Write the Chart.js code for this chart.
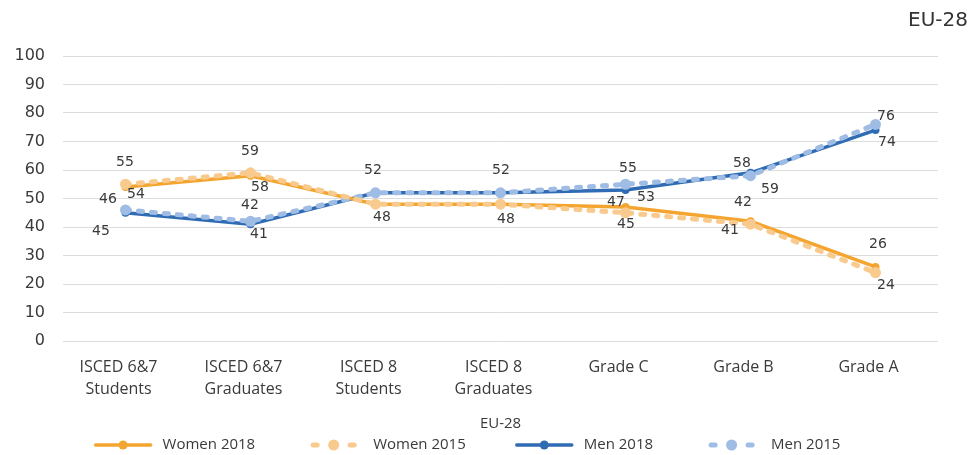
<!DOCTYPE html>
<html>
<head>
<meta charset="utf-8">
<script src="https://cdn.jsdelivr.net/npm/chart.js@4.4.1/dist/chart.umd.min.js"></script>
<style>
  html, body { margin: 0; padding: 0; background: #fff; }
  #wrap { width: 971px; height: 455px; }
</style>
</head>
<body>
<div id="wrap"><canvas id="chart" width="971" height="455"></canvas></div>
<script>
// --- data ---
const categories = [
  ['ISCED 6&7', 'Students'],
  ['ISCED 6&7', 'Graduates'],
  ['ISCED 8', 'Students'],
  ['ISCED 8', 'Graduates'],
  'Grade C',
  'Grade B',
  'Grade A'
];
const women2018 = [54, 58, 48, 48, 47, 42, 26];
const women2015 = [55, 59, 48, 48, 45, 41, 24];
const men2018 = [45, 41, 52, 52, 53, 59, 74];
const men2015 = [46, 42, 52, 52, 55, 58, 76];
const yTicks = [0, 10, 20, 30, 40, 50, 60, 70, 80, 90, 100];

// where each value label sits relative to its point (px)
const labelOffsets = {
  'Women 2018': [[10, 7], [9, 11], [6, 13], [5, 15], [-10, -5], [-8, -19], [2, -23]],
  'Women 2015': [[-1, -22], [-1, -22], [6, 13], [5, 15], [0, 11], [-21, 6], [10, 12]],
  'Men 2018':   [[-25, 18], [8, 10], [-3, -23], [0, -23], [20, 7], [19, 16], [11, 12]],
  'Men 2015':   [[-18, -11], [-1, -16], [-3, -23], [0, -23], [2, -16], [-9, -13], [10, -8]]
};

const TEXT = '#3a3a3a';

// value labels next to each point
const pointLabels = {
  id: 'pointLabels',
  afterDatasetsDraw(chart) {
    const ctx = chart.ctx;
    ctx.save();
    ctx.font = '14px "DejaVu Sans"';
    ctx.fillStyle = TEXT;
    ctx.textAlign = 'center';
    ctx.textBaseline = 'middle';
    const seen = new Set();
    chart.data.datasets.forEach((ds, i) => {
      const offs = labelOffsets[ds.label];
      chart.getDatasetMeta(i).data.forEach((pt, j) => {
        const x = Math.round(pt.x + offs[j][0]), y = Math.round(pt.y + offs[j][1]);
        const key = x + ',' + y + ',' + ds.data[j];
        if (seen.has(key)) return; // equal labels on top of each other: draw once
        seen.add(key);
        ctx.fillText(String(ds.data[j]), x, y);
      });
    });
    ctx.restore();
  }
};

// "EU-28" in the top right corner
const cornerTitle = {
  id: 'cornerTitle',
  afterDraw(chart, args, opts) {
    const ctx = chart.ctx;
    ctx.save();
    ctx.font = opts.font;
    ctx.fillStyle = '#333';
    ctx.textAlign = 'right';
    ctx.textBaseline = 'middle';
    ctx.fillText(opts.text, opts.x, opts.y);
    ctx.restore();
  }
};

function drawSample(ctx, ds, x, y, w) {
  ctx.save();
  ctx.lineCap = 'round';
  if (ds.borderDash && ds.borderDash.length) {
    ctx.strokeStyle = ds.borderColor;
    ctx.lineWidth = 5;
    ctx.beginPath();
    ctx.moveTo(x + 7, y); ctx.lineTo(x + 11, y);
    ctx.moveTo(x + 44, y); ctx.lineTo(x + 48, y);
    ctx.stroke();
    ctx.fillStyle = ds.pointBackgroundColor;
    ctx.beginPath();
    ctx.arc(x + w / 2, y, 5.5, 0, Math.PI * 2);
    ctx.fill();
  } else {
    ctx.strokeStyle = ds.borderColor;
    ctx.lineWidth = 3.5;
    ctx.beginPath();
    ctx.moveTo(x, y); ctx.lineTo(x + w, y);
    ctx.stroke();
    ctx.fillStyle = ds.borderColor;
    ctx.beginPath();
    ctx.arc(x + w / 2, y, 4.5, 0, Math.PI * 2);
    ctx.fill();
  }
  ctx.restore();
}

// one-row legend under the axis title
const legendRow = {
  id: 'legendRow',
  afterDraw(chart, args, opts) {
    const ctx = chart.ctx;
    ctx.save();
    ctx.font = opts.font;
    const items = chart.data.datasets.map(ds => ({ ds, w: ctx.measureText(ds.label).width }));
    const total = items.reduce((s, it) => s + opts.sample + opts.textGap + it.w, 0) + opts.itemGap * (items.length - 1);
    let x = opts.centerX - total / 2;
    items.forEach(({ ds, w }) => {
      drawSample(ctx, ds, x, opts.y, opts.sample);
      x += opts.sample + opts.textGap;
      ctx.fillStyle = TEXT;
      ctx.textAlign = 'left';
      ctx.textBaseline = 'middle';
      ctx.fillText(ds.label, x, opts.y);
      x += w + opts.itemGap;
    });
    ctx.restore();
  }
};

const W18 = '#F4A530', W15 = '#F8CA8E', M18 = '#2F6CB4', M15 = '#9EBCE4';

new Chart(document.getElementById('chart'), {
  type: 'line',
  data: {
    labels: categories,
    datasets: [
      { label: 'Women 2018', data: women2018, borderColor: W18, backgroundColor: W18,
        pointBackgroundColor: W18, borderWidth: 3.5, pointRadius: 4, order: 2 },
      { label: 'Women 2015', data: women2015, borderColor: W15, backgroundColor: W15,
        pointBackgroundColor: W15, borderWidth: 5, borderDash: [4, 9], borderCapStyle: 'round',
        pointRadius: 5.5, order: 0 },
      { label: 'Men 2018', data: men2018, borderColor: M18, backgroundColor: M18,
        pointBackgroundColor: M18, borderWidth: 3.5, pointRadius: 4, order: 3 },
      { label: 'Men 2015', data: men2015, borderColor: M15, backgroundColor: M15,
        pointBackgroundColor: M15, borderWidth: 5, borderDash: [4, 9], borderCapStyle: 'round',
        pointRadius: 5.5, order: 1 }
    ].map(ds => Object.assign({ tension: 0, fill: false, pointBorderWidth: 0 }, ds))
  },
  options: {
    responsive: false,
    animation: false,
    layout: { padding: { top: 56, right: 33, bottom: 22, left: 0 } },
    plugins: {
      legend: { display: false },
      tooltip: { enabled: false },
      cornerTitle: { text: 'EU-28', x: 968, y: 21, font: '20px "DejaVu Sans"' },
      legendRow: { font: '15px "Open Sans"', centerX: 468, y: 445, sample: 55, textGap: 12, itemGap: 51 }
    },
    scales: {
      x: {
        offset: true,
        grid: { display: false, drawTicks: false },
        border: { display: false },
        ticks: {
          color: TEXT, padding: 15, labelOffset: -7, maxRotation: 0, autoSkip: false,
          font: { family: 'Open Sans', size: 16, lineHeight: 1.375 }
        },
        title: { display: true, text: 'EU-28', color: TEXT, padding: 0,
          font: { family: 'Open Sans', size: 15 } },
        afterFit: s => { s.height = 92; }
      },
      y: {
        min: 0, max: 100,
        grid: { color: '#dcdcdc', drawTicks: false },
        border: { display: false },
        ticks: { color: TEXT, padding: 18, font: { family: 'DejaVu Sans', size: 16 } },
        afterBuildTicks: axis => { axis.ticks = yTicks.map(v => ({ value: v })); },
        afterFit: s => { s.width = 63; }
      }
    }
  },
  plugins: [pointLabels, cornerTitle, legendRow]
});
</script>
</body>
</html>
